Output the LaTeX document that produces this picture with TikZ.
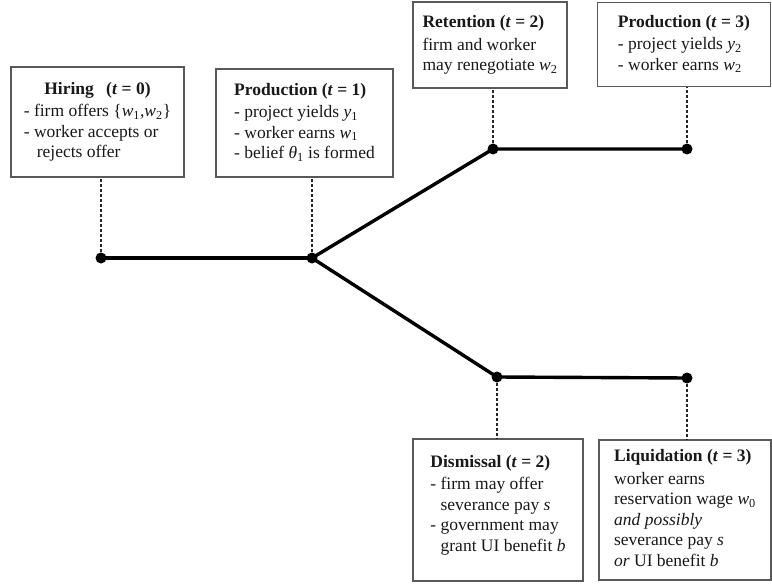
\documentclass[tikz,border=0pt]{standalone}
\usepackage{fontspec}
\setmainfont{Liberation Serif}
\newcommand{\vsub}[2]{\textit{#1}\textsubscript{#2}}
\begin{document}
\begin{tikzpicture}[x=1pt,y=-1pt,
  every node/.style={font=\fontsize{17.5}{20.5}\selectfont, text=black!90},
  stagebox/.style={draw=black!65, line width=1.6pt, inner sep=0pt, fill=white},
  dot/.style={circle, fill=black, inner sep=0pt, minimum size=11pt},
  branch/.style={line width=3.4pt, black},
  guide/.style={line width=1.3pt, black!85, dash pattern=on 3pt off 2pt}]
\useasboundingbox (0,0) rectangle (772,586);

% stage boxes
\node[stagebox, minimum width=173pt, minimum height=110pt] (hire) at (97.5,122)
  {\begin{tabular}{@{}l@{}}
   \multicolumn{1}{c}{\textbf{Hiring\hspace{0.45em} (\textit{t} = 0)}}\\[2pt]
   - firm offers \{\vsub{w}{1},\vsub{w}{2}\}\\
   - worker accepts or\\
   \hspace*{13pt}rejects offer
   \end{tabular}};
\node[stagebox, minimum width=177pt, minimum height=108pt] (prod1) at (304.5,123)
  {\begin{tabular}{@{}l@{}}
   \textbf{Production (\textit{t} = 1)}\\[2pt]
   - project yields \vsub{y}{1}\\
   - worker earns \vsub{w}{1}\\
   - belief \vsub{θ}{1} is formed
   \end{tabular}};
\node[stagebox, minimum width=154pt, minimum height=86pt] (ret) at (490,45)
  {\begin{tabular}{@{}l@{}}
   \textbf{Retention (\textit{t} = 2)}\\[2pt]
   firm and worker\\
   may renegotiate \vsub{w}{2}
   \end{tabular}};
\node[stagebox, minimum width=173pt, minimum height=84pt] (prod3) at (684,44.5)
  {\begin{tabular}{@{}l@{}}
   \textbf{Production (\textit{t} = 3)}\\[2pt]
   - project yields \vsub{y}{2}\\
   - worker earns \vsub{w}{2}
   \end{tabular}};
\node[stagebox, minimum width=170pt, minimum height=142pt] (dism) at (498,510)
  {\begin{tabular}{@{}l@{}}
   \textbf{Dismissal (\textit{t} = 2)}\\[2pt]
   - firm may offer\\
   \phantom{- }severance pay \textit{s}\\
   - government may\\
   \phantom{- }grant UI benefit \textit{b}\\[10pt]
   \end{tabular}};
\node[stagebox, minimum width=172pt, minimum height=140pt] (liq) at (685,510)
  {\begin{tabular}{@{}l@{}}
   \textbf{Liquidation (\textit{t} = 3)}\\[2pt]
   worker earns\\
   reservation wage \vsub{w}{0}\\
   \textit{and possibly}\\
   severance pay \textit{s}\\
   \textit{or} UI benefit \textit{b}
   \end{tabular}};

% event dots
\node[dot] (d0) at (101,258) {};
\node[dot] (d1) at (312,258) {};
\node[dot] (u2) at (493,149) {};
\node[dot] (u3) at (687,149) {};
\node[dot] (l2) at (497,377) {};
\node[dot] (l3) at (687,378) {};

% dashed guides
\draw[guide] (d0) -- (d0 |- hire.south);
\draw[guide] (d1) -- (d1 |- prod1.south);
\draw[guide] (u2) -- (u2 |- ret.south);
\draw[guide] (u3) -- (u3 |- prod3.south);
\draw[guide] (l2) -- (l2 |- dism.north);
\draw[guide] (l3) -- (l3 |- liq.north);

% tree branches
\draw[branch] (d0.center) -- (d1.center);
\draw[branch] (d1.center) -- (u2.center) -- (u3.center);
\draw[branch] (d1.center) -- (l2.center) -- (l3.center);
\end{tikzpicture}
\end{document}
